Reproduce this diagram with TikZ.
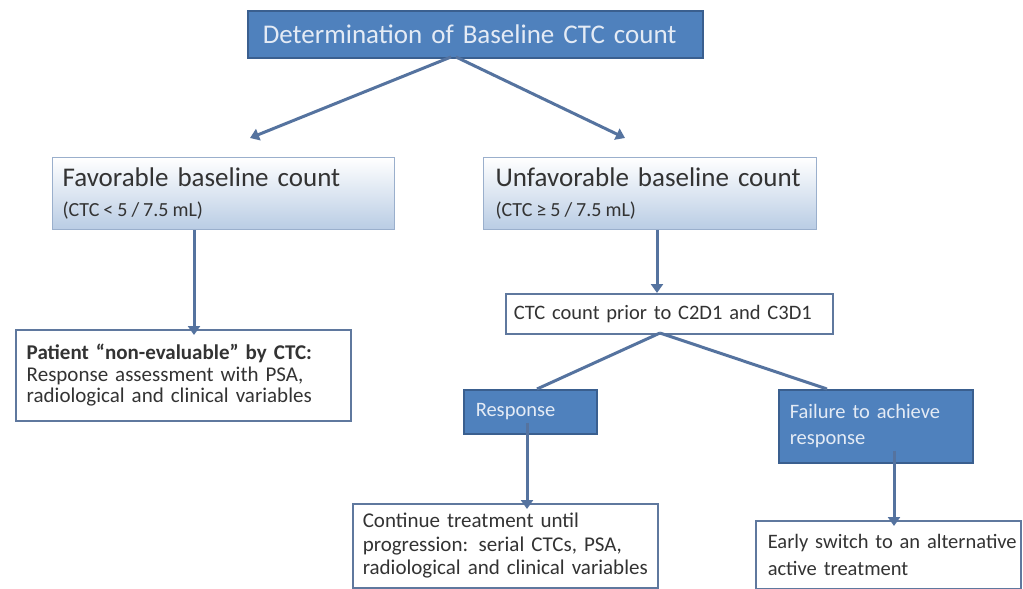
\documentclass[tikz,border=0pt]{standalone}
\usepackage{fontspec}
\setmainfont{Carlito}
\usetikzlibrary{arrows.meta}
\definecolor{dkfill}{HTML}{4F81BD}
\definecolor{dkline}{HTML}{3A5F8F}
\definecolor{arrc}{HTML}{55739F}
\definecolor{wline}{HTML}{5F789E}
\definecolor{lbfill}{HTML}{B9CCE4}
\definecolor{lbline}{HTML}{9AAFCC}
\definecolor{txt}{HTML}{333333}
\definecolor{lighttxt}{HTML}{E4EBF5}
\begin{document}
\begin{tikzpicture}[x=1pt,y=-1pt,
  box/.style={anchor=north west, inner ysep=0pt, align=left},
  darkbox/.style={box, draw=dkline, line width=1.5pt, fill=dkfill, text=lighttxt,
    font=\fontsize{20.5}{26}\selectfont},
  gradbox/.style={box, draw=lbline, line width=1.2pt, top color=white, bottom color=lbfill,
    text=txt, font=\fontsize{27}{30}\selectfont},
  whitebox/.style={box, draw=wline, line width=1.5pt, fill=white, text=txt,
    font=\fontsize{21}{21.5}\selectfont},
  arr/.style={draw=arrc, line width=3pt, -{Triangle[length=9pt,width=12pt]}},
  link/.style={draw=arrc, line width=3pt}
]
\useasboundingbox[fill=white] (0,0) rectangle (1023,589);

\node[darkbox, font=\fontsize{27}{30}\selectfont, minimum height=47pt, text width=425pt, inner xsep=15pt] (top) at (247,10) {Determination of Baseline CTC count};

\node[gradbox, minimum height=72pt, text width=322pt, inner xsep=10pt] (fav) at (52,157)
  {Favorable baseline count\\{\fontsize{20}{30}\selectfont\spaceskip=0.2em (CTC < 5 / 7.5 mL)}};
\node[gradbox, minimum height=72pt, text width=309pt, inner xsep=12pt] (unfav) at (483,157)
  {Unfavorable baseline count\\{\fontsize{20}{30}\selectfont\spaceskip=0.2em (CTC ≥ 5 / 7.5 mL)}};

\node[whitebox, font=\fontsize{20.5}{21.5}\selectfont, minimum height=40pt, text width=311pt, inner xsep=8pt] (ctc) at (505,293)
  {\mbox{CTC count prior to C2D1 and C3D1}};

\node[whitebox, minimum height=91pt, text width=313pt, inner xsep=11pt] (pat) at (15,329)
  {\mbox{\bfseries Patient “non-evaluable” by CTC:}\\\mbox{Response assessment with PSA,}\\\mbox{radiological and clinical variables}};

\node[darkbox, minimum height=44pt, text width=109pt, inner xsep=12pt] (resp) at (463,389) {Response};
\node[darkbox, minimum height=73pt, text width=172pt, inner xsep=11pt] (fail) at (778,389) {Failure to achieve\\response};

\node[whitebox, font=\fontsize{21}{23.5}\selectfont, minimum height=84pt, text width=285pt, inner xsep=10pt] (cont) at (352,503)
  {\mbox{Continue treatment until}\\\mbox{progression: serial CTCs, PSA,}\\\mbox{radiological and clinical variables}};
\node[whitebox, font=\fontsize{20.5}{27}\selectfont, minimum height=68pt, text width=241pt, inner xsep=12pt] (early) at (755,520)
  {\mbox{Early switch to an alternative}\\\mbox{active treatment}};

\coordinate (ts1) at (451,57);
\coordinate (ts2) at (456,57);
\coordinate (favtip) at (250,138);
\coordinate (unftip) at (625,138);
\draw[arr] (ts1) -- (favtip);
\draw[arr] (ts2) -- (unftip);

\draw[arr] (fav.south -| 194,0) -- ([yshift=-6pt]pat.north -| 194,0);
\draw[arr] (unfav.south -| 657,0) -- (ctc.north -| 657,0);
\coordinate (cb) at (660,333);
\draw[link] (cb) -- (resp.north -| 537,0);
\draw[link] (cb) -- (fail.north -| 827,0);
\draw[arr] ([yshift=12pt]resp.south -| 527,0) -- ([yshift=-6pt]cont.north -| 527,0);
\draw[arr] ([yshift=13pt]fail.south -| 894,0) -- ([yshift=-6pt]early.north -| 894,0);
\end{tikzpicture}
\end{document}
